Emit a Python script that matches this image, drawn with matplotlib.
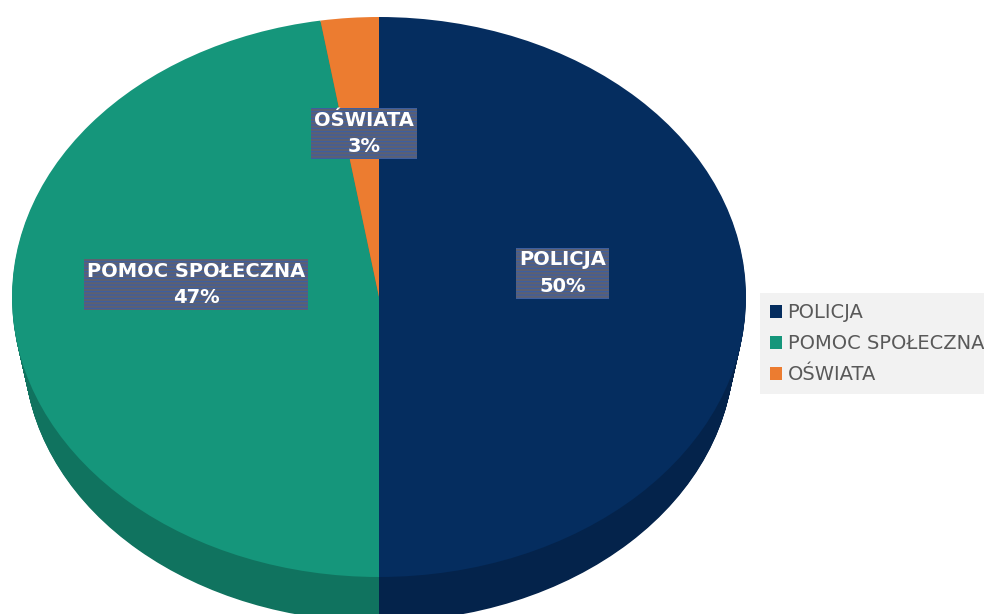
import numpy as np
import matplotlib.pyplot as plt

categories = ["POLICJA", "POMOC SPOŁECZNA", "OŚWIATA"]
values = [50.0, 47.45, 2.55]
top_colors = ["#052D5F", "#15967B", "#EC7C30"]
side_colors = ["#04234B", "#10735F", "#B55E22"]

plt.rcParams["hatch.linewidth"] = 0.8

fig = plt.figure(figsize=(9.84, 6.14), dpi=100)
ax = fig.add_axes([0, 0, 1, 1])

# side of the 3d pie: stack of darker pies, shifted down and shrinking a bit
depth = 0.193
bottom_r = 0.967
steps = 50
for i in range(steps, 0, -1):
    t = i / steps
    ax.pie(values, colors=side_colors, startangle=90, counterclock=False,
           center=(0, -depth * t), radius=1 - (1 - bottom_r) * t,
           wedgeprops=dict(linewidth=0))

wedges, _ = ax.pie(values, colors=top_colors, startangle=90, counterclock=False,
                   wedgeprops=dict(linewidth=0))

total = sum(values)
for w, cat, v in zip(wedges, categories, values):
    ang = np.deg2rad((w.theta1 + w.theta2) / 2)
    x = 0.5 * np.cos(ang)
    y = 0.5 * np.sin(ang) + 0.085
    ax.text(x, y, f"{cat}\n{round(v / total * 100)}%", ha="center", va="center",
            color="white", fontsize=14, fontweight="bold", linespacing=1.5,
            bbox=dict(boxstyle="square,pad=0.15", facecolor="#5D6070",
                      edgecolor="#3A5EA6", linewidth=0, hatch="-----"))

ax.set_aspect("auto")
ax.set_xlim(-379 / 367, 605 / 367)
ax.set_ylim(-317 / 280, 297 / 280)
ax.axis("off")

ax.legend(wedges, categories, loc="upper left", bbox_to_anchor=(760 / 984, 321 / 614),
          bbox_transform=fig.transFigure, frameon=True, facecolor="#F2F2F2",
          edgecolor="none", fancybox=False, framealpha=1, fontsize=14,
          labelcolor="#595959", handlelength=0.62, handleheight=0.62,
          handletextpad=0.28, labelspacing=0.62, borderaxespad=0, borderpad=0.52)

fig.savefig("out.png", dpi=100)
